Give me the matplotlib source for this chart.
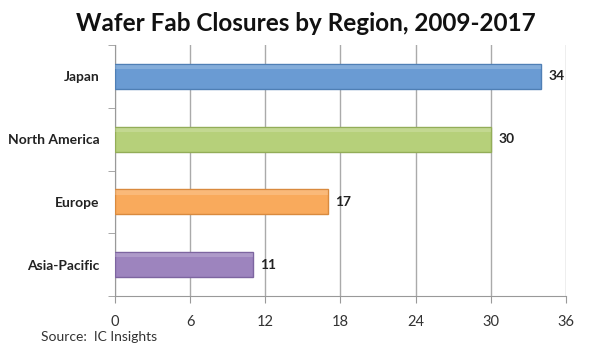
import matplotlib.pyplot as plt
import numpy as np

regions = ["Japan", "North America", "Europe", "Asia-Pacific"]
closures = [34, 30, 17, 11]
colors = ["#6a9bd3", "#b6d07a", "#f9aa5c", "#9d84be"]
edges = ["#4f7fb5", "#93ad58", "#d98a3e", "#7d65a0"]
xticks = [0, 6, 12, 18, 24, 30, 36]

plt.rcParams['font.family'] = ['Lato', 'DejaVu Sans']

fig = plt.figure(figsize=(6.03, 3.62), dpi=100)
ax = fig.add_axes([0.1907, 0.1823, 0.7479, 0.6934])

y = np.arange(len(regions))[::-1]
ax.barh(y, closures, height=0.4, color=colors, edgecolor=edges, linewidth=1, zorder=3)
# light top strip for the bevel look
ax.barh(y + 0.15, closures, height=0.07, color="white", alpha=0.18, linewidth=0, zorder=4)

for yi, v in zip(y, closures):
    ax.text(v + 0.6, yi, str(v), va="center", ha="left", fontsize=10, fontweight="bold", color="#222222")

ax.set_xlim(0, 36)
ax.set_ylim(-0.5, len(regions) - 0.5)
ax.set_xticks(xticks)
ax.set_xticklabels([str(t) for t in xticks], fontsize=10.5, color="#333333")
ax.set_yticks(y)
ax.set_yticklabels(regions, fontsize=10, fontweight="bold", color="#222222")
ax.set_yticks(np.arange(-0.5, len(regions)), minor=True)
ax.tick_params(axis="y", which="major", length=0, pad=11)
ax.tick_params(axis="y", which="minor", length=5, color="#999999", direction="out")
ax.tick_params(axis="x", length=5, color="#999999", pad=9)

ax.grid(axis="x", color="#aaaaaa", linewidth=1, zorder=0)
for s in ["top", "right"]:
    ax.spines[s].set_visible(False)
for s in ["left", "bottom"]:
    ax.spines[s].set_color("#999999")

fig.text(0.508, 0.935, "Wafer Fab Closures by Region, 2009-2017", ha="center", va="center",
         fontsize=17.5, fontweight="bold", color="#111111")
fig.text(0.068, 0.068, "Source:  IC Insights", ha="left", va="center", fontsize=10, color="#333333")

fig.savefig("out.png", dpi=100)
